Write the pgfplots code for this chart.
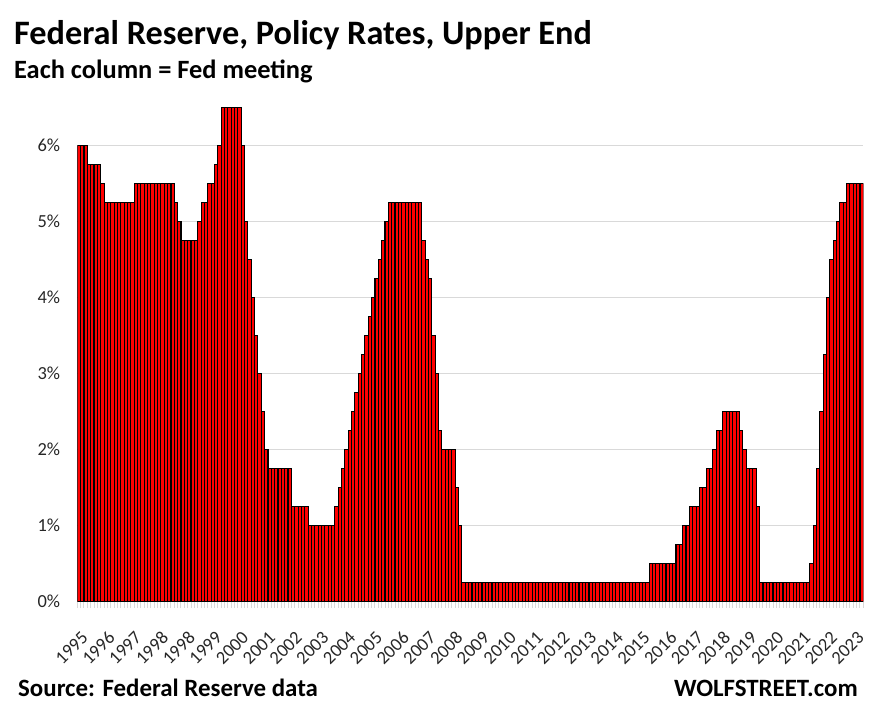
\documentclass[border=0pt]{standalone}
\usepackage{fontspec}
\setmainfont{Carlito}
\usepackage{pgfplots}
\pgfplotsset{compat=1.18}
\usepackage{pgfplotstable}

% upper end of the target range, one row per FOMC meeting (one line per year)
\pgfplotstableread[row sep=\\,col sep=comma]{
rate\\
6.00\\ 6.00\\ 6.00\\ 5.75\\ 5.75\\ 5.75\\ 5.75\\ 5.50\\
5.25\\ 5.25\\ 5.25\\ 5.25\\ 5.25\\ 5.25\\ 5.25\\ 5.25\\
5.25\\ 5.50\\ 5.50\\ 5.50\\ 5.50\\ 5.50\\ 5.50\\ 5.50\\
5.50\\ 5.50\\ 5.50\\ 5.50\\ 5.50\\ 5.25\\ 5.00\\ 4.75\\ 4.75\\
4.75\\ 4.75\\ 4.75\\ 5.00\\ 5.25\\ 5.25\\ 5.50\\ 5.50\\
5.75\\ 6.00\\ 6.50\\ 6.50\\ 6.50\\ 6.50\\ 6.50\\ 6.50\\
6.00\\ 5.00\\ 4.50\\ 4.00\\ 3.50\\ 3.00\\ 2.50\\ 2.00\\ 1.75\\
1.75\\ 1.75\\ 1.75\\ 1.75\\ 1.75\\ 1.75\\ 1.25\\ 1.25\\
1.25\\ 1.25\\ 1.25\\ 1.00\\ 1.00\\ 1.00\\ 1.00\\ 1.00\\
1.00\\ 1.00\\ 1.00\\ 1.25\\ 1.50\\ 1.75\\ 2.00\\ 2.25\\
2.50\\ 2.75\\ 3.00\\ 3.25\\ 3.50\\ 3.75\\ 4.00\\ 4.25\\
4.50\\ 4.75\\ 5.00\\ 5.25\\ 5.25\\ 5.25\\ 5.25\\ 5.25\\
5.25\\ 5.25\\ 5.25\\ 5.25\\ 5.25\\ 4.75\\ 4.50\\ 4.25\\
3.50\\ 3.00\\ 2.25\\ 2.00\\ 2.00\\ 2.00\\ 2.00\\ 1.50\\ 1.00\\ 0.25\\
0.25\\ 0.25\\ 0.25\\ 0.25\\ 0.25\\ 0.25\\ 0.25\\ 0.25\\
0.25\\ 0.25\\ 0.25\\ 0.25\\ 0.25\\ 0.25\\ 0.25\\ 0.25\\
0.25\\ 0.25\\ 0.25\\ 0.25\\ 0.25\\ 0.25\\ 0.25\\ 0.25\\
0.25\\ 0.25\\ 0.25\\ 0.25\\ 0.25\\ 0.25\\ 0.25\\ 0.25\\
0.25\\ 0.25\\ 0.25\\ 0.25\\ 0.25\\ 0.25\\ 0.25\\ 0.25\\
0.25\\ 0.25\\ 0.25\\ 0.25\\ 0.25\\ 0.25\\ 0.25\\ 0.25\\
0.25\\ 0.25\\ 0.25\\ 0.25\\ 0.25\\ 0.25\\ 0.25\\ 0.50\\
0.50\\ 0.50\\ 0.50\\ 0.50\\ 0.50\\ 0.50\\ 0.50\\ 0.75\\
0.75\\ 1.00\\ 1.00\\ 1.25\\ 1.25\\ 1.25\\ 1.50\\
1.50\\ 1.75\\ 1.75\\ 2.00\\ 2.25\\ 2.25\\ 2.50\\
2.50\\ 2.50\\ 2.50\\ 2.50\\ 2.25\\ 2.00\\ 1.75\\ 1.75\\
1.75\\ 1.25\\ 0.25\\ 0.25\\ 0.25\\ 0.25\\ 0.25\\ 0.25\\
0.25\\ 0.25\\ 0.25\\ 0.25\\ 0.25\\ 0.25\\ 0.25\\ 0.25\\
0.25\\ 0.50\\ 1.00\\ 1.75\\ 2.50\\ 3.25\\ 4.00\\ 4.50\\
4.75\\ 5.00\\ 5.25\\ 5.25\\ 5.50\\ 5.50\\ 5.50\\ 5.50\\
5.50\\
}\fedrate

\definecolor{gridgray}{HTML}{D9D9D9}
\definecolor{labelgray}{HTML}{262626}

\begin{document}
\begin{tikzpicture}
\useasboundingbox (0,0) rectangle (875bp,704bp);
\begin{axis}[
    at={(77.3bp,102.3bp)}, anchor=south west,
    scale only axis, width=786bp, height=494bp,
    xmin=-0.5, xmax=234.5, ymin=0, ymax=6.5,
    axis line style={draw=none},
    ymajorgrids, grid style={draw=gridgray, line width=1.5bp},
    ytick={0,1,...,6},
    yticklabels={0\%,1\%,2\%,3\%,4\%,5\%,6\%},
    xtick={0,8,...,232},
    xticklabels={1995,1996,1997,1998,1998,1999,2000,2001,2002,2003,2004,2005,2006,2007,2008,2009,2010,2011,2012,2013,2014,2015,2016,2017,2018,2019,2020,2021,2022,2023},
    tick pos=left, tick align=outside,
    major tick length=0pt,
    minor xtick={-0.5,0.5,...,234.5},
    minor tick length=6bp,
    minor tick style={draw=gridgray, line width=1bp},
    x tick label style={xshift=6bp, yshift=-33bp, rotate=45, anchor=east, inner sep=0pt,
        font=\fontsize{18.5}{20}\selectfont, text=labelgray},
    y tick label style={anchor=east, inner sep=0pt, xshift=-17bp,
        font=\fontsize{18.5}{20}\selectfont, text=labelgray},
]
\addplot[ybar, bar width=1, bar shift=0pt, fill=red, draw=black, line width=1.1bp]
    table[x expr=\coordindex, y=rate] {\fedrate};
\end{axis}
\node[anchor=base west, inner sep=0pt, font=\bfseries\fontsize{34.4}{40}\selectfont] at (14bp,659bp) {Federal Reserve, Policy Rates, Upper End};
\node[anchor=base west, inner sep=0pt, font=\bfseries\fontsize{26.5}{30}\selectfont] at (14bp,625bp) {Each column = Fed meeting};
\node[anchor=base west, inner sep=0pt, font=\bfseries\fontsize{25}{30}\selectfont] at (18bp,8bp) {Source: Federal Reserve data};
\node[anchor=base east, inner sep=0pt, font=\bfseries\fontsize{25}{30}\selectfont] at (858bp,8bp) {WOLFSTREET.com};
\end{tikzpicture}
\end{document}
